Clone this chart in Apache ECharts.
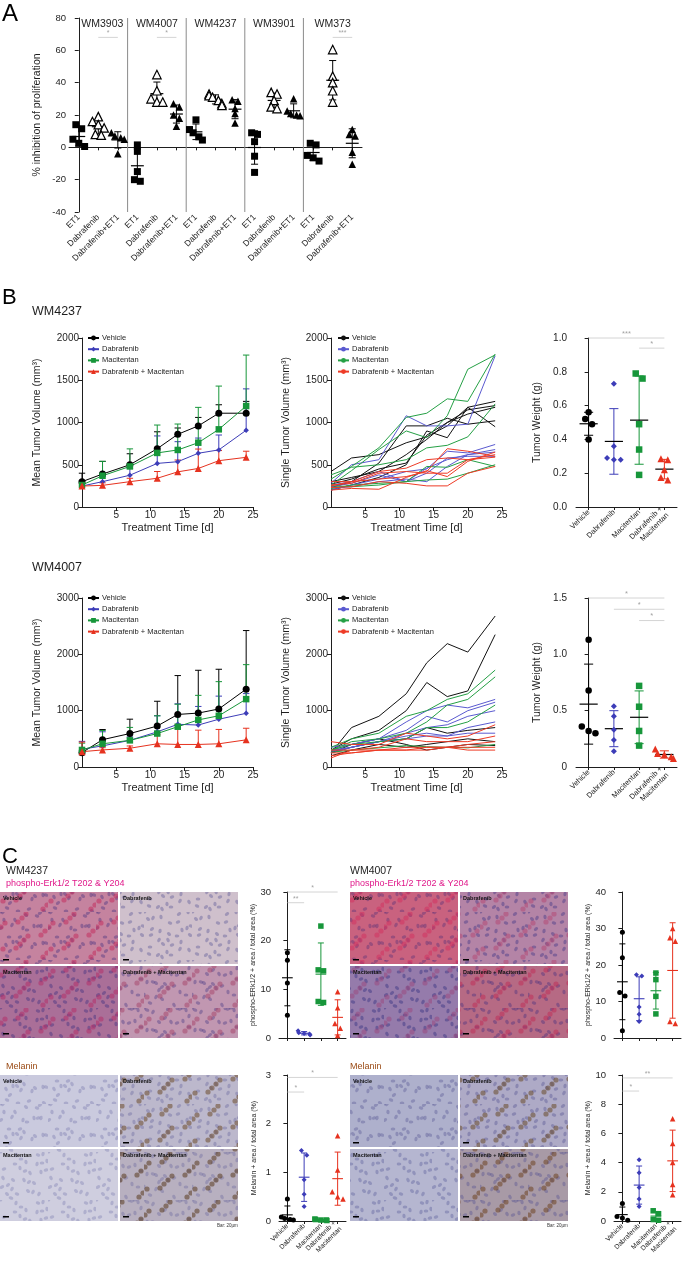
<!DOCTYPE html>
<html>
<head>
<meta charset="utf-8">
<script src="https://cdn.jsdelivr.net/npm/echarts@6.0.0/dist/echarts.min.js"></script>
<style>
html,body{margin:0;padding:0;background:#fff;}
#chart{width:685px;height:1261px;}
</style>
</head>
<body>
<div id="chart"></div>
<script>
// ================= DATA =================
// ---- Panel A: % inhibition of proliferation ----
const aCellLines = ['WM3903', 'WM4007', 'WM4237', 'WM3901', 'WM373'];
const aTreatments = ['ET1', 'Dabrafenib', 'Dabrafenib+ET1'];
const aYTicks = [-40, 80, 20]; // min, max, step
const aWM3903 = [[14, 11.5, 5, 2.5, 0.5], [19, 16, 14, 12, 8, 7.5], [9, 7, 6, 5, -4]];
const aWM4007 = [[1.5, -2.5, -15, -20, -21], [45, 35, 30, 28, 28], [27, 25, 20, 18, 13]];
const aWM4237 = [[17, 11, 9, 6.5, 4.5], [33, 32, 31, 29, 27, 26], [29.5, 28.5, 24, 21, 15]];
const aWM3901 = [[9, 8, 3.5, -5.5, -15.5], [34, 33, 29, 25, 24], [30, 22.5, 21, 20, 19.5]];
const aWM373 = [[2.5, 1.5, -5, -6.5, -8.5], [60.5, 44, 40, 35, 28], [11, 8, 7, -3, -10.5]];
const aSig = [[1, 2, 68, '*'], [4, 5, 68, '*'], [13, 14, 68, '***']];

// ---- Panel B: xenografts ----
const bDays = [0, 3, 7, 11, 14, 17, 20, 24];
const bGroups = ['Vehicle', 'Dabrafenib', 'Macitentan', 'Dabrafenib + Macitentan'];
const bWeightCats = ['Vehicle', 'Dabrafenib', 'Macitentan', 'Dabrafenib +\nMacitentan'];
// WM4237 mean tumor volume and upper SD
const wm4237MeanVeh = [300, 390, 500, 690, 860, 960, 1110, 1110];
const wm4237ErrVeh = [100, 150, 130, 200, 75, 100, 100, 140];
const wm4237MeanDab = [248, 300, 376, 516, 536, 636, 676, 908];
const wm4237ErrDab = [40, 60, 80, 325, 237, 180, 176, 490];
const wm4237MeanMac = [260, 370, 480, 640, 675, 761, 919, 1195];
const wm4237ErrMac = [50, 170, 208, 330, 307, 418, 512, 603];
const wm4237MeanDM = [248, 256, 300, 340, 416, 456, 548, 588];
const wm4237ErrDM = [30, 30, 40, 80, 140, 230, 120, 72];
// WM4237 single tumours
const wm4237SingleVeh = [[420, 580, 620, 760, 830, 960, 1180, 1250], [270, 330, 450, 520, 850, 1000, 1150, 1200], [230, 300, 520, 960, 960, 1050, 980, 1020], [200, 260, 350, 500, 900, 820, 1180, 950], [300, 350, 420, 620, 800, 1000, 1100, 1180]];
const wm4237SingleDab = [[280, 500, 560, 1080, 960, 960, 980, 1790], [200, 260, 330, 420, 450, 660, 640, 740], [220, 240, 300, 330, 300, 480, 620, 680], [240, 280, 380, 300, 460, 560, 620, 650], [260, 300, 420, 300, 400, 580, 600, 600]];
const wm4237SingleMac = [[330, 480, 700, 1060, 1110, 1280, 1250, 1810], [260, 430, 680, 900, 820, 1080, 1630, 1800], [380, 470, 500, 560, 700, 730, 830, 1220], [250, 240, 260, 300, 320, 330, 400, 500], [220, 260, 280, 300, 480, 470, 560, 480]];
const wm4237SingleDM = [[300, 300, 420, 460, 560, 580, 560, 620], [250, 300, 330, 360, 420, 690, 660, 600], [230, 240, 300, 280, 250, 250, 400, 480], [200, 220, 210, 350, 430, 360, 540, 650], [260, 280, 400, 420, 400, 400, 560, 590]];
const wm4237Weight = [[0.52, 0.56, 0.49, 0.40], [0.73, 0.36, 0.29, 0.28, 0.28], [0.79, 0.76, 0.49, 0.34, 0.19], [0.28, 0.285, 0.22, 0.16, 0.175]];
const wm4237WeightSig = [[0, 3, 1.0, '***'], [2, 3, 0.94, '*']];
// WM4007
const wm4007MeanVeh = [255, 485, 594, 727, 933, 957, 1030, 1382];
const wm4007ErrVeh = [40, 180, 255, 440, 690, 760, 705, 1040];
const wm4007MeanDab = [315, 375, 473, 624, 758, 745, 848, 953];
const wm4007ErrDab = [140, 250, 60, 285, 363, 330, 410, 350];
const wm4007MeanMac = [303, 412, 473, 594, 715, 836, 909, 1205];
const wm4007ErrMac = [120, 236, 230, 315, 400, 436, 606, 612];
const wm4007MeanDM = [272, 303, 333, 412, 400, 400, 412, 482];
const wm4007ErrDM = [170, 40, 40, 160, 350, 254, 255, 206];
const wm4007SingleVeh = [[250, 700, 900, 1300, 1850, 2190, 2040, 2680], [300, 500, 650, 1000, 1500, 1250, 1350, 2350], [250, 350, 450, 500, 700, 600, 650, 700], [200, 300, 400, 350, 400, 450, 500, 450], [250, 400, 500, 400, 300, 350, 400, 380]];
const wm4007SingleDab = [[300, 400, 500, 800, 1000, 1100, 1050, 1200], [350, 400, 500, 650, 900, 800, 1000, 1150], [300, 350, 450, 600, 700, 750, 900, 1000], [280, 350, 450, 550, 600, 550, 700, 800], [250, 350, 450, 500, 550, 550, 600, 600]];
const wm4007SingleMac = [[350, 500, 600, 900, 1000, 1200, 1300, 1720], [300, 450, 500, 600, 800, 1100, 1200, 1600], [300, 400, 450, 500, 700, 700, 800, 1100], [260, 300, 340, 380, 360, 350, 340, 400]];
const wm4007SingleDM = [[450, 400, 400, 600, 550, 500, 550, 750], [300, 300, 350, 500, 450, 450, 450, 550], [250, 250, 300, 350, 350, 350, 400, 450], [200, 250, 300, 300, 300, 350, 350, 350], [160, 300, 300, 300, 350, 350, 300, 300]];
const wm4007Weight = [[1.13, 0.68, 0.36, 0.30, 0.32], [0.54, 0.45, 0.33, 0.24, 0.14], [0.72, 0.535, 0.32, 0.19], [0.16, 0.075, 0.09, 0.11, 0.12]];
const wm4007WeightSig = [[0, 3, 1.5, '*'], [1, 3, 1.4, '*'], [2, 3, 1.3, '*']];

// ---- Panel C: IHC quantification ----
const cTileLabels = ['Vehicle', 'Dabrafenib', 'Macitentan', 'Dabrafenib + Macitentan'];
const cPhosWM4237 = [[17.5, 16, 11.3, 4.7], [1.5, 1.1, 0.9, 0.8, 0.6], [23, 14, 13.8, 7.5, 7.3], [9.5, 6.2, 3, 2, 0.5]];
const cPhosWM4237Sig = [[0, 3, 30, '*'], [0, 1, 27.8, '**']];
const cPhosWM4007 = [[29, 22, 12.5, 11.5, 2], [17, 17.3, 8.5, 6.5, 4.5], [17.8, 16, 11.4, 6.6], [30, 27.5, 26.5, 4.5, 4]];
const cMelWM4237 = [[0.45, 0.08, 0.05, 0.03, 0.02], [1.45, 1.35, 0.85, 0.55, 0.3], [0.04, 0.03, 0.02, 0.02, 0.01], [1.75, 1.05, 0.6, 0.5, 0.45]];
const cMelWM4237Sig = [[0, 3, 2.95, '*'], [0, 1, 2.65, '*']];
const cMelWM4007 = [[1.2, 0.3, 0.2, 0.05], [4.2, 3.3, 2.3, 1.5, 1.0], [0.7, 0.5, 0.1, 0.05], [7.0, 5.3, 4.0, 2.5, 1.8]];
const cMelWM4007Sig = [[0, 3, 9.8, '**'], [0, 1, 8.9, '*']];

// ================= STYLE / HELPERS =================
const FONT = "'Liberation Sans', Arial, Helvetica, sans-serif";
const INK = '#1e1e1e';
const grpColors = ['#000000', '#3d3db8', '#17963a', '#e6321f'];
const grpLineColors = ['#111111', '#5a5ad0', '#25a045', '#ee3b26'];
const grpSymbols = ['circle', 'diamond', 'rect', 'triangle'];
const AXL = {show: true, lineStyle: {color: INK, width: 1}};
const AXT = {show: true, length: 4, lineStyle: {color: INK, width: 1}};
const plainNum = v => String(v);

function mean(a) { return a.reduce((s, v) => s + v, 0) / a.length; }
function sd(a) { const m = mean(a); return Math.sqrt(a.reduce((s, v) => s + (v - m) * (v - m), 0) / (a.length - 1)); }
// deterministic horizontal spread of nearly overlapping points (beeswarm-like)
function swarm(vals, thr, w, lim) {
  const idx = vals.map((v, i) => i).sort((a, b) => vals[b] - vals[a]);
  const off = new Array(vals.length).fill(0);
  let cl = [idx[0]];
  const flush = () => { cl.forEach((k, j) => { off[k] = Math.max(-lim, Math.min(lim, (j - (cl.length - 1) / 2) * w)); }); };
  for (let t = 1; t < idx.length; t++) {
    if (vals[idx[t - 1]] - vals[idx[t]] < thr) cl.push(idx[t]); else { flush(); cl = [idx[t]]; }
  }
  flush();
  return off;
}

const option = {
  animation: false,
  backgroundColor: '#ffffff',
  textStyle: {fontFamily: FONT},
  grid: [], xAxis: [], yAxis: [], series: [], legend: [], graphic: []
};
function addGrid(g) { option.grid.push(Object.assign({containLabel: false, outerBoundsMode: 'none'}, g)); return option.grid.length - 1; }

function meanSdRender(colors, meanColors, halfMean, halfCap, lw) {
  return function (params, api) {
    const x = api.value(0), m = api.value(1), s = api.value(2);
    const c = colors[params.dataIndex], mc = meanColors[params.dataIndex];
    const pl = api.coord([x - halfMean, m]), pr = api.coord([x + halfMean, m]);
    const ct = api.coord([x, m + s]), cb = api.coord([x, m - s]);
    const cl = api.coord([x - halfCap, m]), cr = api.coord([x + halfCap, m]);
    return {type: 'group', children: [
      {type: 'line', shape: {x1: ct[0], y1: ct[1], x2: cb[0], y2: cb[1]}, style: {stroke: c, lineWidth: 1}},
      {type: 'line', shape: {x1: cl[0], y1: ct[1], x2: cr[0], y2: ct[1]}, style: {stroke: c, lineWidth: 1}},
      {type: 'line', shape: {x1: cl[0], y1: cb[1], x2: cr[0], y2: cb[1]}, style: {stroke: c, lineWidth: 1}},
      {type: 'line', shape: {x1: pl[0], y1: pl[1], x2: pr[0], y2: pr[1]}, style: {stroke: mc, lineWidth: lw}}
    ]};
  };
}
function sigRender(labels, fs) {
  return function (params, api) {
    const a = api.coord([api.value(0), api.value(2)]), b = api.coord([api.value(1), api.value(2)]);
    return {type: 'group', children: [
      {type: 'line', shape: {x1: a[0], y1: a[1], x2: b[0], y2: b[1]}, style: {stroke: '#c9c9c9', lineWidth: 0.8}},
      {type: 'text', x: (a[0] + b[0]) / 2, y: a[1] - 0.5, style: {text: labels[params.dataIndex], fill: '#a3a3a3', fontSize: fs, fontFamily: FONT, align: 'center', verticalAlign: 'bottom'}}
    ]};
  };
}
function errRender(color) {
  return function (params, api) {
    const x = api.value(0), m = api.value(1), e = api.value(2);
    const p0 = api.coord([x, m]), p1 = api.coord([x, m + e]);
    return {type: 'group', children: [
      {type: 'line', shape: {x1: p0[0], y1: p0[1], x2: p1[0], y2: p1[1]}, style: {stroke: color, lineWidth: 1}},
      {type: 'line', shape: {x1: p1[0] - 3.2, y1: p1[1], x2: p1[0] + 3.2, y2: p1[1]}, style: {stroke: color, lineWidth: 1}}
    ]};
  };
}

function dotPlot(o) {
  const gi = addGrid(o.grid);
  const xc = option.xAxis.length;
  option.xAxis.push({type: 'category', gridIndex: gi, data: o.cats, boundaryGap: true,
    axisLine: AXL, axisTick: {show: true, alignWithLabel: true, length: 3, lineStyle: {color: INK}},
    axisLabel: {show: o.showLabels !== false, interval: 0, rotate: 45, fontSize: o.labelSize, color: INK, fontFamily: FONT, margin: 4, lineHeight: o.labelSize + 1.5, hideOverlap: false},
    splitLine: {show: false}});
  const xv = option.xAxis.length;
  option.xAxis.push({type: 'value', gridIndex: gi, min: -0.5, max: o.cats.length - 0.5, show: false, splitLine: {show: false}});
  const yi = option.yAxis.length;
  option.yAxis.push({type: 'value', gridIndex: gi, min: o.yMin, max: o.yMax, interval: o.yInt, offset: o.yOffset || 0,
    name: o.yName, nameLocation: 'middle', nameRotate: 90, nameGap: o.nameGap,
    nameTextStyle: {fontSize: o.nameSize, color: INK, fontFamily: FONT},
    axisLine: AXL, axisTick: AXT,
    axisLabel: {fontSize: o.tickSize, color: INK, fontFamily: FONT, margin: 3, formatter: o.fmt || plainNum, hideOverlap: false},
    splitLine: {show: false}});
  const range = o.yMax - o.yMin;
  o.groups.forEach((vals, c) => {
    const off = swarm(vals, range * o.thr, o.w, o.lim || 0.36);
    option.series.push({type: 'scatter', xAxisIndex: xv, yAxisIndex: yi, silent: true, z: 4,
      data: vals.map((v, i) => [c + off[i], v]),
      symbol: o.symbols[c], symbolSize: o.sizes[c],
      itemStyle: {color: o.fills[c], borderColor: o.colors[c], borderWidth: o.borders ? o.borders[c] : 0, opacity: 1}});
  });
  option.series.push({type: 'custom', xAxisIndex: xv, yAxisIndex: yi, silent: true, clip: true, z: 3,
    renderItem: meanSdRender(o.colors, o.meanColors || o.colors, o.halfMean, o.halfCap, o.meanWidth || 1.2),
    data: o.groups.map((vals, c) => [c, mean(vals), sd(vals)])});
  if (o.sig) {
    option.series.push({type: 'custom', xAxisIndex: xv, yAxisIndex: yi, silent: true, clip: false, z: 2,
      renderItem: sigRender(o.sig.map(s => s[3]), o.sigSize || 7),
      data: o.sig.map(s => [s[0], s[1], s[2]])});
  }
  return {gi, xc, xv, yi};
}

function lineChart(g, yMax, yInt, yName, nameGap) {
  const gi = addGrid(g);
  const xi = option.xAxis.length;
  option.xAxis.push({type: 'value', gridIndex: gi, min: 0, max: 25, interval: 5,
    name: 'Treatment Time [d]', nameLocation: 'middle', nameGap: 15,
    nameTextStyle: {fontSize: 11, color: INK, fontFamily: FONT},
    axisLine: AXL, axisTick: AXT, splitLine: {show: false},
    axisLabel: {fontSize: 10, color: INK, fontFamily: FONT, showMinLabel: false, margin: 3, formatter: plainNum}});
  const yi = option.yAxis.length;
  option.yAxis.push({type: 'value', gridIndex: gi, min: 0, max: yMax, interval: yInt,
    name: yName, nameLocation: 'middle', nameRotate: 90, nameGap: nameGap,
    nameTextStyle: {fontSize: 10.5, color: INK, fontFamily: FONT},
    axisLine: AXL, axisTick: AXT, splitLine: {show: false},
    axisLabel: {fontSize: 10, color: INK, fontFamily: FONT, margin: 3, formatter: plainNum}});
  return {xi, yi};
}
const bSymSize = [7, 5.5, 6.5, 7];
function meanLines(ax, means, errs) {
  means.forEach((m, k) => {
    option.series.push({type: 'custom', xAxisIndex: ax.xi, yAxisIndex: ax.yi, silent: true, clip: false, z: 2,
      renderItem: errRender(grpColors[k]), data: bDays.map((d, i) => [d, m[i], errs[k][i]])});
  });
  means.forEach((m, k) => {
    option.series.push({type: 'line', name: bGroups[k], xAxisIndex: ax.xi, yAxisIndex: ax.yi, silent: true, z: 3,
      data: bDays.map((d, i) => [d, m[i]]), symbol: grpSymbols[k], symbolSize: bSymSize[k], showSymbol: true,
      lineStyle: {color: grpColors[k], width: 1}, itemStyle: {color: grpColors[k]}});
  });
}
function singleLines(ax, sets) {
  sets.forEach((lines, k) => lines.forEach(l => option.series.push({type: 'line', name: bGroups[k] + '\u200b',
    xAxisIndex: ax.xi, yAxisIndex: ax.yi, silent: true, symbol: 'none', z: 3,
    data: bDays.map((d, i) => [d, l[i]]), lineStyle: {color: grpLineColors[k], width: 1}, itemStyle: {color: grpLineColors[k]}})));
}
function addLegend(left, top, names) {
  option.legend.push({show: true, orient: 'vertical', left: left, top: top, padding: 0, itemGap: 3.2,
    itemWidth: 11, itemHeight: 6, selectedMode: false, data: names,
    textStyle: {fontSize: 7.5, color: INK, fontFamily: FONT, padding: [0, 0, 0, -2]}});
}

// ================= PANEL A =================
const aCats = aCellLines.flatMap(() => aTreatments);
const aGroups = [aWM3903, aWM4007, aWM4237, aWM3901, aWM373].flat();
const aAx = dotPlot({
  grid: {left: 69, top: 18, width: 293, height: 194},
  cats: aCats, groups: aGroups, labelSize: 8.5,
  yMin: aYTicks[0], yMax: aYTicks[1], yInt: aYTicks[2],
  yName: '% inhibition of proliferation', nameGap: 26, nameSize: 10.5, tickSize: 9.5,
  symbols: aGroups.map((g, i) => ['rect', 'triangle', 'triangle'][i % 3]),
  sizes: aGroups.map((g, i) => [7, 8.5, 7.5][i % 3]),
  fills: aGroups.map((g, i) => ['#000', '#fff', '#000'][i % 3]),
  colors: aGroups.map(() => '#000'),
  borders: aGroups.map((g, i) => [0, 1.2, 0][i % 3]),
  thr: 0.025, w: 0.3, lim: 0.33, halfMean: 0.33, halfCap: 0.18, meanWidth: 1.2,
  sig: aSig, sigSize: 7
});
// group separators & cell line titles
option.series.push({type: 'custom', xAxisIndex: aAx.xv, yAxisIndex: aAx.yi, silent: true, clip: false, z: 1,
  data: aCellLines.map((n, g) => [g * 3 - 0.5, g * 3 + 1]),
  renderItem: function (params, api) {
    const g = params.dataIndex;
    const top = api.coord([api.value(1), aYTicks[1]]);
    const children = [{type: 'text', x: top[0] + (g === 0 ? 4 : 0), y: top[1] + 0.5, style: {text: aCellLines[g], fill: INK, fontSize: 10.5, fontFamily: FONT, align: 'center', verticalAlign: 'top'}}];
    if (g > 0) {
      const a = api.coord([api.value(0), aYTicks[1]]), b = api.coord([api.value(0), aYTicks[0]]);
      children.push({type: 'line', shape: {x1: a[0], y1: a[1], x2: b[0], y2: b[1]}, style: {stroke: '#8a8a8a', lineWidth: 1}});
    }
    return {type: 'group', children: children};
  }});

// ================= PANEL B =================
const tl = lineChart({left: 82, top: 338, width: 171, height: 169}, 2000, 500, 'Mean Tumor Volume (mm³)', 39);
meanLines(tl, [wm4237MeanVeh, wm4237MeanDab, wm4237MeanMac, wm4237MeanDM], [wm4237ErrVeh, wm4237ErrDab, wm4237ErrMac, wm4237ErrDM]);
addLegend(87, 334, bGroups);
const tm = lineChart({left: 331, top: 338, width: 171, height: 169}, 2000, 500, 'Single Tumor Volume (mm³)', 39);
singleLines(tm, [wm4237SingleVeh, wm4237SingleDab, wm4237SingleMac, wm4237SingleDM]);
addLegend(337, 334, bGroups.map(n => n + '\u200b'));

const weightCommon = {
  cats: bWeightCats, labelSize: 7.5, yMin: 0, yName: 'Tumor Weight (g)', nameGap: 27, nameSize: 10.5, tickSize: 10,
  yOffset: 6, symbols: grpSymbols, sizes: [6.5, 6, 6.5, 7], fills: grpColors, colors: grpColors,
  meanColors: ['#000', '#000', '#000', '#000'], thr: 0.035, w: 0.27, halfMean: 0.36, halfCap: 0.18, meanWidth: 1.2, sigSize: 7.5
};
dotPlot(Object.assign({}, weightCommon, {grid: {left: 576, top: 338, width: 101, height: 169}, groups: wm4237Weight,
  yMax: 1.0, yInt: 0.2, fmt: v => v.toFixed(1), sig: wm4237WeightSig}));

const bl = lineChart({left: 82, top: 598, width: 171, height: 169}, 3000, 1000, 'Mean Tumor Volume (mm³)', 39);
meanLines(bl, [wm4007MeanVeh, wm4007MeanDab, wm4007MeanMac, wm4007MeanDM], [wm4007ErrVeh, wm4007ErrDab, wm4007ErrMac, wm4007ErrDM]);
addLegend(87, 594, bGroups);
const bm = lineChart({left: 331, top: 598, width: 171, height: 169}, 3000, 1000, 'Single Tumor Volume (mm³)', 39);
singleLines(bm, [wm4007SingleVeh, wm4007SingleDab, wm4007SingleMac, wm4007SingleDM]);
addLegend(337, 594, bGroups.map(n => n + '\u200b'));
dotPlot(Object.assign({}, weightCommon, {grid: {left: 576, top: 598, width: 101, height: 169}, groups: wm4007Weight,
  yMax: 1.5, yInt: 0.5, fmt: v => (v === 0 ? '0' : v.toFixed(1)), sig: wm4007WeightSig}));

// ================= PANEL C =================
const melTop = 1075;
const cCommon = {
  cats: bWeightCats, labelSize: 6.8, yMin: 0, nameSize: 7, tickSize: 9.5, yOffset: 5,
  symbols: grpSymbols, sizes: [5, 5, 5.5, 5.5], fills: grpColors, colors: grpColors, meanColors: grpColors,
  thr: 0.035, w: 0.32, halfMean: 0.32, halfCap: 0.18, meanWidth: 1.1, sigSize: 7
};
const phosName = 'phospho-ERk1/2 + area / total area (%)';
const melName = 'Melanin + area / total area (%)';
dotPlot(Object.assign({}, cCommon, {grid: {left: 279, top: 892, width: 67, height: 146}, groups: cPhosWM4237,
  yMax: 30, yInt: 10, yName: phosName, nameGap: 16, showLabels: false, sig: cPhosWM4237Sig}));
dotPlot(Object.assign({}, cCommon, {grid: {left: 614, top: 892, width: 67, height: 146}, groups: cPhosWM4007,
  yMax: 40, yInt: 10, yName: phosName, nameGap: 16, showLabels: false}));
dotPlot(Object.assign({}, cCommon, {grid: {left: 279, top: melTop, width: 67, height: 146}, groups: cMelWM4237,
  yMax: 3, yInt: 1, yName: melName, nameGap: 16, sig: cMelWM4237Sig}));
dotPlot(Object.assign({}, cCommon, {grid: {left: 614, top: melTop, width: 67, height: 146}, groups: cMelWM4007,
  yMax: 10, yInt: 2, yName: melName, nameGap: 16, sig: cMelWM4007Sig}));

// --------- micrograph stand-ins (decorative textured tiles) ---------
function tex(base, nuc, accent, a, b) {
  const s = 48, c = document.createElement('canvas');
  c.width = s; c.height = s;
  const g = c.getContext('2d');
  g.fillStyle = base; g.fillRect(0, 0, s, s);
  g.fillStyle = nuc; g.globalAlpha = 0.5;
  for (let i = 0; i < 30; i++) {
    const x = (i * a) % s, y = (i * b + ((i * i) % 11)) % s;
    g.beginPath(); g.ellipse(x, y, 2.3, 1.6, i * 0.7, 0, Math.PI * 2); g.fill();
  }
  if (accent) {
    g.fillStyle = accent; g.globalAlpha = 0.55;
    for (let i = 0; i < 14; i++) {
      const x = (i * 23 + 5) % s, y = (i * 13 + 11) % s;
      g.beginPath(); g.arc(x, y, 2.6, 0, Math.PI * 2); g.fill();
    }
  }
  g.globalAlpha = 1;
  return c;
}
function tiles(x0, y0, w, h, texs) {
  const gap = 2, tw = (w - gap) / 2, th = (h - gap) / 2;
  texs.forEach((t, i) => {
    const x = x0 + (i % 2) * (tw + gap), y = y0 + Math.floor(i / 2) * (th + gap);
    option.graphic.push({type: 'rect', silent: true, shape: {x: x, y: y, width: tw, height: th}, style: {fill: {image: t, repeat: 'repeat'}}});
    option.graphic.push({type: 'text', silent: true, x: x + 3, y: y + 3, style: {text: cTileLabels[i], fill: '#111', fontSize: 5.5, fontWeight: 'bold', fontFamily: FONT, align: 'left', verticalAlign: 'top'}});
    option.graphic.push({type: 'rect', silent: true, shape: {x: x + 3, y: y + th - 5, width: 6, height: 1.5}, style: {fill: '#000'}});
  });
}
tiles(0, 892, 238, 146, [tex('#c5839f', '#5b3f86', '#c2305f', 17, 29), tex('#cfc0cc', '#6f6aa0', null, 19, 31), tex('#aa6f98', '#4e3a84', '#b3306a', 13, 27), tex('#c197b1', '#5f4b8e', '#a8486e', 21, 23)]);
tiles(350, 892, 218, 146, [tex('#c9627f', '#6b3a7a', '#d23360', 17, 29), tex('#b484a6', '#4f3f8a', '#b44a74', 19, 31), tex('#957bab', '#3f3a86', '#9a4a80', 13, 27), tex('#b66a84', '#5a3a80', '#c0305a', 21, 23)]);
tiles(0, melTop, 238, 146, [tex('#cacade', '#8a8ab8', null, 17, 29), tex('#bcb8cc', '#7a78a8', '#6b4a2a', 19, 31), tex('#cfcedf', '#9090bb', null, 13, 27), tex('#b8b0c0', '#7b77a6', '#5a3a1e', 21, 23)]);
tiles(350, melTop, 218, 146, [tex('#aeb0cc', '#6a6aa0', null, 17, 29), tex('#aeaac6', '#65639c', '#6a4a2a', 19, 31), tex('#b5b6d0', '#6e70a5', null, 13, 27), tex('#a89aa6', '#666096', '#6e4420', 21, 23)]);

// --------- panel letters & titles ---------
function txt(x, y, s, size, color, weight) {
  option.graphic.push({type: 'text', silent: true, x: x, y: y, style: {text: s, fill: color || INK, fontSize: size, fontWeight: weight || 'normal', fontFamily: FONT, align: 'left', verticalAlign: 'top'}});
}
txt(2, 2, 'A', 24, '#000');
txt(2, 287, 'B', 22, '#000');
txt(32, 305, 'WM4237', 12.5);
txt(32, 561, 'WM4007', 12.5);
txt(2, 846, 'C', 22, '#000');
txt(6, 866, 'WM4237', 10.5);
txt(6, 879, 'phospho-Erk1/2 T202 & Y204', 9, '#e0198a');
txt(350, 866, 'WM4007', 10.5);
txt(350, 879, 'phospho-Erk1/2 T202 & Y204', 9, '#e0198a');
txt(6, melTop - 13, 'Melanin', 9, '#9a4a14');
txt(350, melTop - 13, 'Melanin', 9, '#9a4a14');
txt(217, melTop + 148, 'Bar: 20µm', 4.5, '#333');
txt(547, melTop + 148, 'Bar: 20µm', 4.5, '#333');

const chart = echarts.init(document.getElementById('chart'), null, {renderer: 'canvas', width: 685, height: 1261});
chart.setOption(option);
</script>
</body>
</html>
